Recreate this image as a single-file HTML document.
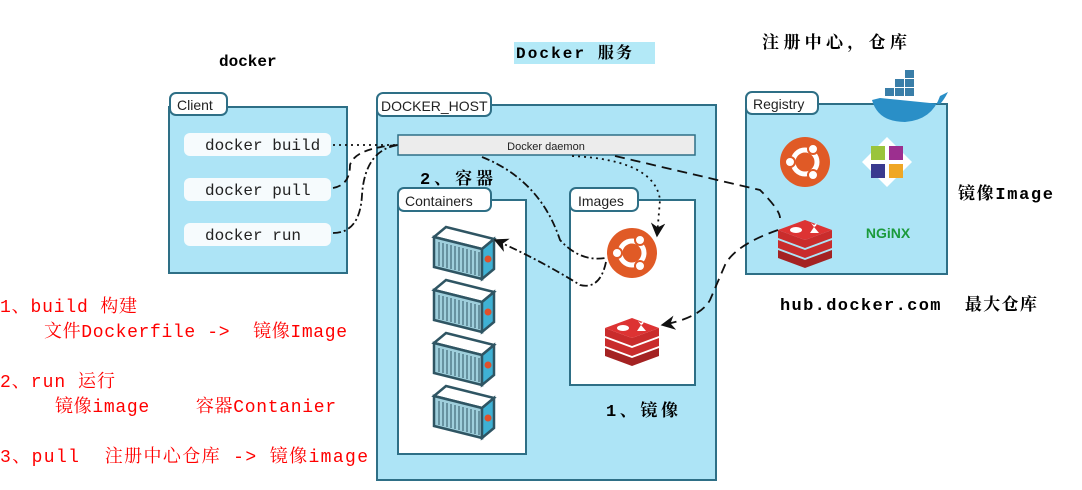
<!DOCTYPE html>
<html><head><meta charset="utf-8"><style>
body{margin:0;width:1082px;height:490px;background:#fff;overflow:hidden;}
svg{display:block}
text{white-space:pre}
.t{font-family:"Liberation Mono","Noto Serif CJK SC",monospace;font-weight:bold;}
.r{fill:#f00;font-size:18px;font-family:"Liberation Mono","Noto Serif CJK SC",monospace;}
.s{font-family:"Liberation Sans",sans-serif;fill:#222;}
</style></head><body>
<svg width="1082" height="490" viewBox="0 0 1082 490" xml:space="preserve">
<defs>
<g id="cont">
 <polygon points="0,10 12,0 60,12 48,22" fill="#fff" stroke="#2f5563" stroke-width="2.5"/>
 <polygon points="0,10 48,22 48,52 0,40" fill="#9fcfdc" stroke="#2f5563" stroke-width="2.5"/>
 <polygon points="48,22 60,12 60,42 48,52" fill="#3fb1d4" stroke="#2f5563" stroke-width="2.5"/>
 <path d="M5,15v24M9,16v24M13,17v24M17,18v24M21,19v24M25,20v24M29,21v24M33,22v24M37,23v24M41,24v24M45,25v24" stroke="#2f5563" stroke-width="1"/>
 <circle cx="54" cy="32" r="3.5" fill="#e0502a"/>
</g>
<g id="ubu">
 <circle r="25" fill="#e05a26"/>
 <circle r="12" fill="none" stroke="#fff" stroke-width="5"/>
 <circle cx="-15" cy="0" r="5" fill="#fff" stroke="#e05a26" stroke-width="2"/>
 <circle cx="8" cy="-13" r="5" fill="#fff" stroke="#e05a26" stroke-width="2"/>
 <circle cx="8" cy="13" r="5" fill="#fff" stroke="#e05a26" stroke-width="2"/>
</g>
<g id="redis">
 <polygon points="-27,16 0,26 27,16 27,24 0,34 -27,24" fill="#a42222"/>
 <polygon points="-27,6 0,16 27,6 27,14 0,24 -27,14" fill="#c92c2c"/>
 <polygon points="-27,-4 0,6 27,-4 27,4 0,14 -27,4" fill="#c92c2c"/>
 <polygon points="-27,-4 0,-14 27,-4 0,6" fill="#dd3333"/>
 <ellipse cx="-9" cy="-4" rx="6" ry="3" fill="#fff"/>
 <polygon points="5,-1 14,-1 9,-7" fill="#fff"/>
 <path d="M6,-11l3,2l3,-2l-1,3l-2,1z" fill="#fff"/>
</g>
<marker id="ah" viewBox="0 0 10 10" refX="9" refY="5" markerWidth="8" markerHeight="8" orient="auto"><path d="M0,0L10,5L0,10L3,5z" fill="#111"/></marker>
</defs>

<text x="219" y="66" class="t" font-size="16">docker</text>
<rect x="514" y="42" width="141" height="22" fill="#b3e9f7"/>
<text x="516" y="58" class="t" font-size="16" textLength="116" lengthAdjust="spacing">Docker 服务</text>
<text x="762" y="48" class="t" font-size="17" textLength="145" lengthAdjust="spacing">注册中心，仓库</text>

<!-- Client -->
<rect x="169" y="107" width="178" height="166" fill="#ade4f6" stroke="#2e6f86" stroke-width="2"/>
<rect x="170" y="93" width="57" height="22" rx="6" fill="#fff" stroke="#2e6f86" stroke-width="2"/>
<text x="177" y="110" class="s" font-size="14">Client</text>
<rect x="184" y="133" width="147" height="23" rx="6" fill="#f6fbfd"/>
<rect x="184" y="178" width="147" height="23" rx="6" fill="#f6fbfd"/>
<rect x="184" y="223" width="147" height="23" rx="6" fill="#f6fbfd"/>
<g font-family="Liberation Mono,monospace" font-size="16" fill="#222">
<text x="205" y="150">docker build</text>
<text x="205" y="195">docker pull</text>
<text x="205" y="240">docker run</text>
</g>

<!-- Host -->
<rect x="377" y="105" width="339" height="375" fill="#ade4f6" stroke="#2e6f86" stroke-width="2"/>
<rect x="377" y="93" width="114" height="23" rx="6" fill="#fff" stroke="#2e6f86" stroke-width="2"/>
<text x="381" y="111" font-family="Liberation Sans,sans-serif" font-size="14" fill="#222">DOCKER_HOST</text>
<rect x="398" y="135" width="297" height="20" fill="#ececec" stroke="#2e6f86" stroke-width="1.5"/>
<text x="546" y="150" class="s" font-size="11" text-anchor="middle">Docker daemon</text>
<text x="420" y="184" class="t" font-size="17" textLength="73" lengthAdjust="spacing">2、容器</text>

<rect x="398" y="200" width="128" height="254" fill="#fff" stroke="#2e6f86" stroke-width="2"/>
<rect x="398" y="188" width="93" height="23" rx="6" fill="#fff" stroke="#2e6f86" stroke-width="2"/>
<text x="405" y="206" class="s" font-size="14">Containers</text>
<use href="#cont" x="434" y="227"/>
<use href="#cont" x="434" y="280"/>
<use href="#cont" x="434" y="333"/>
<use href="#cont" x="434" y="386"/>

<rect x="570" y="200" width="125" height="185" fill="#fff" stroke="#2e6f86" stroke-width="2"/>
<rect x="570" y="188" width="68" height="23" rx="6" fill="#fff" stroke="#2e6f86" stroke-width="2"/>
<text x="578" y="206" class="s" font-size="14">Images</text>
<use href="#ubu" x="632" y="253"/>
<use href="#redis" x="632" y="332"/>
<text x="606" y="416" class="t" font-size="17" textLength="72" lengthAdjust="spacing">1、镜像</text>

<!-- Registry -->
<rect x="746" y="104" width="201" height="170" fill="#ade4f6" stroke="#2e6f86" stroke-width="2"/>
<rect x="746" y="92" width="72" height="22" rx="6" fill="#fff" stroke="#2e6f86" stroke-width="2"/>
<text x="753" y="109" class="s" font-size="14">Registry</text>
<g>
 <path d="M872,100 Q878,122 905,122 Q932,120 940,96 L948,92 Q944,100 940,104 L880,98z" fill="#2a8fc7"/>
 <rect x="885" y="88" width="9" height="8" fill="#3a7ea8"/><rect x="895" y="88" width="9" height="8" fill="#3a7ea8"/><rect x="905" y="88" width="9" height="8" fill="#3a7ea8"/>
 <rect x="895" y="79" width="9" height="8" fill="#3a7ea8"/><rect x="905" y="79" width="9" height="8" fill="#3a7ea8"/>
 <rect x="905" y="70" width="9" height="8" fill="#3a7ea8"/>
</g>
<use href="#ubu" x="805" y="162"/>
<g transform="translate(887,162)">
 <polygon points="0,-25 25,0 0,25 -25,0" fill="#fff"/>
 <rect x="-16" y="-16" width="14" height="14" fill="#9ac43c"/><rect x="2" y="-16" width="14" height="14" fill="#9c2f8f"/>
 <rect x="-16" y="2" width="14" height="14" fill="#3a3a8f"/><rect x="2" y="2" width="14" height="14" fill="#efa724"/>
</g>
<use href="#redis" x="805" y="234"/>
<text x="888" y="238" font-family="Liberation Sans,sans-serif" font-weight="bold" font-size="14" fill="#1b9a3b" text-anchor="middle">NGiNX</text>

<text x="958" y="199" class="t" font-size="17" textLength="95" lengthAdjust="spacing">镜像Image</text>
<text x="780" y="310" class="t" font-size="17" textLength="257" lengthAdjust="spacing">hub.docker.com  最大仓库</text>

<!-- connectors -->
<g fill="none" stroke="#111" stroke-width="1.8">
 <path d="M333,145 L398,145" stroke-dasharray="2,4"/>
 <path d="M333,188 Q350,185 350,165 Q355,148 398,145" stroke-dasharray="8,5"/>
 <path d="M333,233 Q360,233 362,195 Q365,150 398,145" stroke-dasharray="8,3,2,3"/>
 <path d="M482,157 Q540,180 560,240 Q580,262 605,258" stroke-dasharray="8,3,2,3"/>
 <path d="M606,262 Q600,290 580,285 Q540,260 495,240" stroke-dasharray="8,3,2,3" marker-end="url(#ah)"/>
 <path d="M572,156 Q655,160 660,200 L657,236" stroke-dasharray="2,4" marker-end="url(#ah)"/>
 <path d="M615,156 L760,190 Q780,210 780,218" stroke-dasharray="10,6"/>
 <path d="M778,230 Q735,245 725,265 L710,300 Q700,318 662,325" stroke-dasharray="10,6" marker-end="url(#ah)"/>
</g>

<!-- red notes -->
<g class="r">
<text x="0" y="312" textLength="137" lengthAdjust="spacing">1、build 构建</text>
<text x="44" y="337" textLength="303" lengthAdjust="spacing">文件Dockerfile ->  镜像Image</text>
<text x="0" y="387" textLength="115" lengthAdjust="spacing">2、run 运行</text>
<text x="55" y="412" textLength="281" lengthAdjust="spacing">镜像image    容器Contanier</text>
<text x="0" y="462" textLength="368" lengthAdjust="spacing">3、pull  注册中心仓库 -> 镜像image</text>
</g>
</svg>
</body></html>
